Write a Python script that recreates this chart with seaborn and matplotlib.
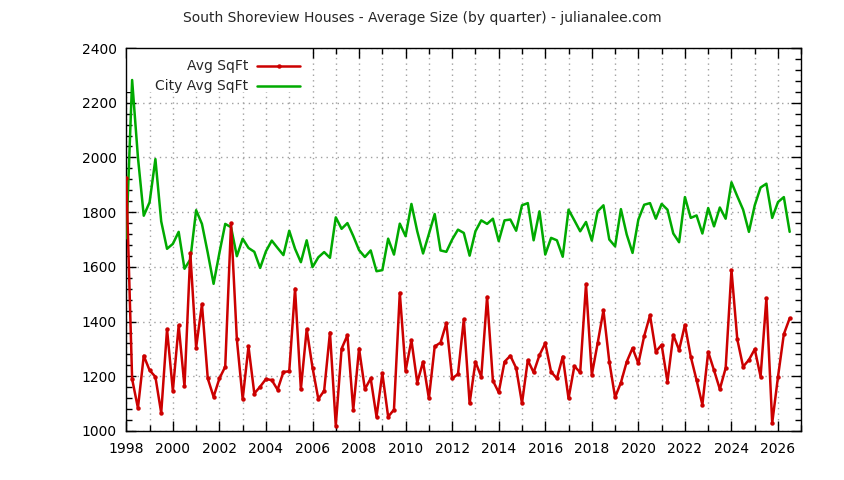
import numpy as np
import pandas as pd
import matplotlib
matplotlib.use("Agg")
import matplotlib.pyplot as plt
from matplotlib.ticker import MultipleLocator
from matplotlib.patches import Rectangle
import seaborn as sns

sns.set_style("ticks")
plt.rcParams['font.family'] = ['DejaVu Sans']

# quarterly averages, first quarter of 1998 onwards
start_year = 1998
avg_sqft = [
    1925, 1190, 1084, 1275,  # 1998
    1222, 1198, 1066, 1372,  # 1999
    1147, 1386, 1163, 1650,  # 2000
    1305, 1463, 1192, 1125,  # 2001
    1192, 1235, 1759, 1335,  # 2002
    1117, 1309, 1137, 1162,  # 2003
    1190, 1186, 1151, 1216,  # 2004
    1218, 1520, 1153, 1372,  # 2005
    1232, 1117, 1147, 1360,  # 2006
    1020, 1301, 1350, 1077,  # 2007
    1301, 1153, 1192, 1052,  # 2008
    1211, 1052, 1078, 1505,  # 2009
    1220, 1332, 1177, 1253,  # 2010
    1119, 1309, 1323, 1394,  # 2011
    1192, 1208, 1408, 1101,  # 2012
    1253, 1198, 1490, 1184,  # 2013
    1141, 1253, 1275, 1230,  # 2014
    1101, 1259, 1214, 1277,  # 2015
    1321, 1216, 1192, 1272,  # 2016
    1119, 1237, 1214, 1536,  # 2017
    1205, 1321, 1441, 1254,  # 2018
    1123, 1177, 1253, 1303,  # 2019
    1247, 1347, 1423, 1290,  # 2020
    1315, 1180, 1351, 1296,  # 2021
    1388, 1272, 1186, 1096,  # 2022
    1289, 1222, 1153, 1230,  # 2023
    1588, 1335, 1235, 1260,  # 2024
    1299, 1199, 1485, 1029,  # 2025
    1199, 1354, 1412,        # 2026
]
city_avg_sqft = [
    1705, 2283, 2000, 1787,  # 1998
    1836, 1994, 1766, 1666,  # 1999
    1684, 1728, 1593, 1627,  # 2000
    1807, 1757, 1651, 1538,  # 2001
    1651, 1757, 1745, 1639,  # 2002
    1703, 1669, 1655, 1596,  # 2003
    1657, 1696, 1669, 1643,  # 2004
    1732, 1666, 1617, 1697,  # 2005
    1599, 1635, 1654, 1633,  # 2006
    1781, 1739, 1760, 1713,  # 2007
    1661, 1636, 1660, 1584,  # 2008
    1588, 1703, 1645, 1758,  # 2009
    1712, 1830, 1730, 1649,  # 2010
    1720, 1793, 1660, 1655,  # 2011
    1700, 1736, 1724, 1641,  # 2012
    1730, 1770, 1757, 1776,  # 2013
    1694, 1770, 1773, 1732,  # 2014
    1825, 1833, 1697, 1803,  # 2015
    1645, 1706, 1697, 1637,  # 2016
    1809, 1770, 1730, 1764,  # 2017
    1696, 1803, 1825, 1700,  # 2018
    1675, 1811, 1718, 1651,  # 2019
    1773, 1827, 1833, 1776,  # 2020
    1830, 1809, 1722, 1690,  # 2021
    1855, 1779, 1788, 1722,  # 2022
    1815, 1748, 1817, 1776,  # 2023
    1909, 1858, 1809, 1728,  # 2024
    1825, 1890, 1904, 1779,  # 2025
    1837, 1855, 1728,        # 2026
]
series_names = ["Avg SqFt", "City Avg SqFt"]
title = "South Shoreview Houses - Average Size (by quarter) - julianalee.com"

quarter = start_year + np.arange(len(avg_sqft)) / 4.0
df = pd.DataFrame({"quarter": quarter, "avg": avg_sqft, "city": city_avg_sqft})

red = "#cc0000"
green = "#00aa00"

fig = plt.figure(figsize=(8.44, 4.80), dpi=100)
ax = fig.add_axes([126.3 / 844, 1 - 431 / 480, 675 / 844, 383 / 480])

sns.lineplot(data=df, x="quarter", y="avg", color=red, linewidth=1.8,
             marker="o", markersize=3.2, markeredgewidth=0,
             legend=False, ax=ax, zorder=4)
sns.lineplot(data=df, x="quarter", y="city", color=green, linewidth=1.8,
             legend=False, ax=ax, zorder=3)

ax.set_xlim(1998, 2027)
ax.set_ylim(1000, 2400)
ax.set_xlabel("")
ax.set_ylabel("")

ax.xaxis.set_major_locator(MultipleLocator(2))
ax.xaxis.set_minor_locator(MultipleLocator(1))
ax.yaxis.set_major_locator(MultipleLocator(200))
ax.yaxis.set_minor_locator(MultipleLocator(40))
ax.tick_params(which="both", direction="in", top=True, right=True,
               colors="black", labelsize=10)
ax.tick_params(which="major", length=7, width=1)
ax.tick_params(which="minor", length=4, width=1)
ax.tick_params(axis="x", pad=8)
ax.tick_params(axis="y", pad=7)

ax.set_axisbelow(True)
ax.grid(True, which="major", axis="y", color="#a0a0a0", linestyle=(0, (1, 3)), linewidth=1)
ax.grid(True, which="both", axis="x", color="#a0a0a0", linestyle=(0, (1, 3)), linewidth=1)
for s in ax.spines.values():
    s.set_color("black")
    s.set_linewidth(1.0)

# opaque key box, gnuplot style
ax.add_patch(Rectangle((0, 0.885), 0.27, 0.115, transform=ax.transAxes,
                       facecolor="white", edgecolor="none", zorder=1))
key_y = [0.954, 0.901]
key_colors = [red, green]
for name, ky, c, mk in zip(series_names, key_y, key_colors, ["o", None]):
    ax.text(0.181, ky, name, transform=ax.transAxes, ha="right", va="center",
            fontsize=10, zorder=5)
    ax.plot([0.194, 0.258], [ky, ky], transform=ax.transAxes, color=c,
            linewidth=1.8, zorder=5)
    if mk:
        ax.plot([0.226], [ky], transform=ax.transAxes, color=c, marker=mk,
                markersize=3.2, markeredgewidth=0, zorder=6)

fig.text(0.5, 1 - 18 / 480, title, ha="center", va="center", fontsize=10)

fig.savefig("out.png", dpi=100)
